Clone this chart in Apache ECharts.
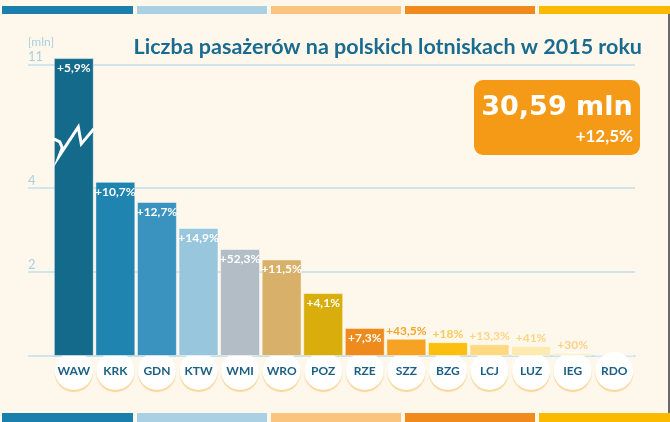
<!DOCTYPE html>
<html><head><meta charset="utf-8">
<script src="https://cdn.jsdelivr.net/npm/echarts@6/dist/echarts.min.js"></script>
<style>html,body{margin:0;padding:0;background:#FEF8EC}#c{width:670px;height:422px}</style>
</head><body><div id="c"></div>
<script>
const categories = ['WAW','KRK','GDN','KTW','WMI','WRO','POZ','RZE','SZZ','BZG','LCJ','LUZ','IEG','RDO'];
const passengers = [11.15, 4.15, 3.67, 3.05, 2.55, 2.3, 1.5, 0.67, 0.41, 0.33, 0.28, 0.24, 0.08, 0.01];
const changes = ['+5,9%','+10,7%','+12,7%','+14,9%','+52,3%','+11,5%','+4,1%','+7,3%','+43,5%','+18%','+13,3%','+41%','+30%',''];
const barColors = ['#146A8A','#1F84B0','#3993BE','#98C6DD','#B3BDC5','#D9B06A','#D9AE0C','#EF8A1C','#F6A323','#FBBF10','#FDDA82','#FDEAB0','#FDF0C8','#FEF3D8'];
const outsideLabelColors = {8:'#F4A52A',9:'#FCC95C',10:'#FDD583',11:'#FDD583',12:'#FDD08A'};
const tickValues = [0, 2, 4, 11];
const tickLabelValues = [2, 4, 11];
const titleText = 'Liczba pasażerów na polskich lotniskach w 2015 roku';
const unitText = '[mln]';
const totalText = '30,59 mln';
const totalChange = '+12,5%';
const stripColors = ['#1B7FAE','#AAD0E4','#FBC47E','#F08A1C','#FBBA00'];

const chart = echarts.init(document.getElementById('c'), null, {renderer:'canvas'});
const data = passengers.map((v, i) => {
  const inside = i <= 7;
  return {
    value: v,
    itemStyle: {color: barColors[i]},
    label: changes[i] ? {
      show: true,
      position: inside ? 'insideTop' : 'top',
      distance: inside ? 4 : 2,
      color: inside ? '#FFFFFF' : outsideLabelColors[i],
      formatter: changes[i]
    } : {show: false}
  };
});

chart.setOption({
  backgroundColor: '#FEF8EC',
  animation: false,
  grid: {left: 53, right: 35, top: 56, bottom: 66},
  xAxis: {
    type: 'category',
    data: categories,
    axisLine: {lineStyle: {color: '#C2DEEC', width: 1.5}},
    axisTick: {show: false},
    axisLabel: {
      interval: 0, margin: -4,
      formatter: v => '{c|' + v + '}',
      rich: {c: {width: 38, height: 38, lineHeight: 38, align: 'center', backgroundColor: '#FFFFFF', borderRadius: 19,
        color: '#1B5F83', fontWeight: 'bold', fontSize: 12, fontFamily: 'Lato',
        shadowColor: 'rgba(246,205,130,0.8)', shadowOffsetY: 2, shadowBlur: 1}}
    }
  },
  yAxis: {
    type: 'value', min: 0, max: 11.2,
    breaks: [{start: 4.5, end: 10.5, gap: 1.95}],
    breakArea: {show: false},
    axisLine: {show: false},
    axisTick: {show: true, customValues: tickValues, length: 25, lineStyle: {color: '#C2DEEC', width: 1.5}},
    axisLabel: {customValues: tickLabelValues, align: 'left', margin: 25, verticalAlign: 'bottom',
      color: '#A9CFE3', fontSize: 13, fontFamily: 'Lato', padding: [0, 0, 1, 0]},
    splitLine: {show: true, lineStyle: {color: '#C2DEEC', width: 1.5}}
  },
  series: [{
    type: 'bar', data: data, barCategoryGap: '4%',
    itemStyle: {borderColor: 'rgba(255,255,255,0.45)', borderWidth: 1},
    label: {fontFamily: 'Lato', fontWeight: 'bold', fontSize: 12}
  }]
});

const xW = chart.convertToPixel({xAxisIndex: 0}, categories[0]);
const y4 = chart.convertToPixel({yAxisIndex: 0}, 4);
const y11 = chart.convertToPixel({yAxisIndex: 0}, 11);
const cy = y4 - 0.39 * (y4 - y11);
const zig = [[-20,-1],[-14,2],[-11.5,8],[-14.5,16],[4.5,-13],[7.5,4],[20,-11]].map(p => [xW + p[0], cy + p[1]]);

const graphic = [];
const stripX = [2, 137, 271, 405, 539];
const stripW = [131, 130, 130, 130, 131];
stripColors.forEach((c, i) => {
  graphic.push({type: 'rect', shape: {x: stripX[i], y: 6, width: stripW[i], height: 8}, style: {fill: c}});
  graphic.push({type: 'rect', shape: {x: stripX[i], y: 413, width: stripW[i], height: 9}, style: {fill: c}});
});
graphic.push({type: 'rect', shape: {x: 668, y: 14, width: 2, height: 399}, style: {fill: '#6A6A6A'}});
graphic.push({type: 'text', x: 642, y: 58, style: {text: titleText, fill: '#1A6B8F', font: 'bold 21.5px Lato', textAlign: 'right', textVerticalAlign: 'bottom'}});
graphic.push({type: 'text', x: 28, y: 48, style: {text: unitText, fill: '#A9CFE3', font: '12px Lato', textAlign: 'left', textVerticalAlign: 'bottom'}});
graphic.push({type: 'rect', shape: {x: 474, y: 80, width: 166, height: 75, r: 9}, style: {fill: '#F49A17'}});
graphic.push({type: 'text', x: 557, y: 108, style: {text: totalText, fill: '#FFFFFF', font: 'bold 27px "DejaVu Sans"', textAlign: 'center', textVerticalAlign: 'middle'}});
graphic.push({type: 'text', x: 633, y: 137, style: {text: totalChange, fill: '#FFFFFF', font: 'bold 17px Lato', textAlign: 'right', textVerticalAlign: 'middle'}});
graphic.push({type: 'polyline', shape: {points: zig}, style: {stroke: '#FFFFFF', lineWidth: 3, fill: null, lineJoin: 'miter'}, z: 100});
chart.setOption({graphic: graphic});
</script></body></html>
